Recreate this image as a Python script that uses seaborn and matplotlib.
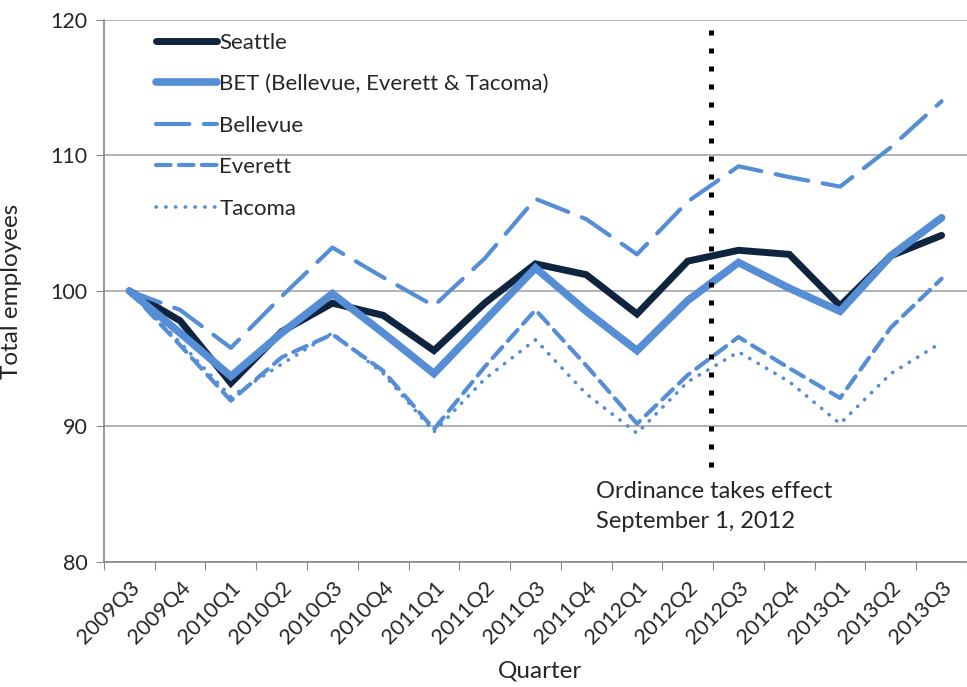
import numpy as np
import pandas as pd
import matplotlib
matplotlib.use("Agg")
import matplotlib.pyplot as plt
import seaborn as sns

# Donnees (indice, base 2009Q3 = 100)
quarters = ["2009Q3", "2009Q4", "2010Q1", "2010Q2", "2010Q3", "2010Q4",
            "2011Q1", "2011Q2", "2011Q3", "2011Q4", "2012Q1", "2012Q2",
            "2012Q3", "2012Q4", "2013Q1", "2013Q2", "2013Q3"]

seattle = [100.0, 97.8, 93.2, 97.0, 99.1, 98.2, 95.6, 99.1, 102.0, 101.2,
           98.3, 102.2, 103.0, 102.7, 98.9, 102.6, 104.1]
bet = [100.0, 96.9, 93.7, 96.9, 99.8, 96.9, 93.9, 97.8, 101.7, 98.5,
       95.6, 99.3, 102.1, 100.2, 98.5, 102.6, 105.4]
bellevue = [100.0, 98.6, 95.8, 99.6, 103.2, 101.0, 98.9, 102.4, 106.8, 105.3,
            102.7, 106.6, 109.2, 108.4, 107.7, 110.6, 114.0]
everett = [100.0, 96.0, 91.9, 95.1, 96.8, 94.1, 89.8, 94.4, 98.6, 94.5,
           90.2, 93.8, 96.6, 94.3, 92.1, 97.3, 100.9]
tacoma = [100.0, 96.2, 92.2, 94.6, 96.9, 93.9, 89.6, 93.5, 96.4, 92.4,
          89.5, 93.3, 95.5, 93.3, 90.2, 93.9, 96.2]

series = ["Seattle", "BET (Bellevue, Everett & Tacoma)", "Bellevue", "Everett", "Tacoma"]
values = [seattle, bet, bellevue, everett, tacoma]

dark = "#0f243e"
blue = "#558ed5"
styles = {
    "Seattle": dict(color=dark, lw=5.0, ls="-"),
    "BET (Bellevue, Everett & Tacoma)": dict(color=blue, lw=5.5, ls="-"),
    "Bellevue": dict(color=blue, lw=3.0, ls=(0, (8, 3.5))),
    "Everett": dict(color=blue, lw=3.0, ls=(0, (3.5, 2))),
    "Tacoma": dict(color=blue, lw=2.6, ls=(0, (0.1, 2.6))),
}

rows = []
for name, vals in zip(series, values):
    for i, v in enumerate(vals):
        rows.append({"serie": name, "idx": i, "quarter": quarters[i], "val": v})
df = pd.DataFrame(rows)

sns.set_style("white")
plt.rcParams["font.family"] = ["Lato", "DejaVu Sans"]

fig = plt.figure(figsize=(9.67, 6.87), dpi=100)
ax = fig.add_axes([0.1075, 0.182, 0.8925, 0.789])

for name in series:
    st = styles[name]
    sub = df[df["serie"] == name]
    sns.lineplot(data=sub, x="idx", y="val", ax=ax, color=st["color"],
                 lw=st["lw"], linestyle=st["ls"], label=name,
                 solid_capstyle="round", dash_capstyle="round",
                 solid_joinstyle="miter")

# Ligne verticale : entree en vigueur de l'ordonnance
ax.plot([11.45, 11.45], [87.0, 119.6], color="black", lw=3.6,
        linestyle=(0, (1, 2.6)), dash_capstyle="butt", zorder=5)
ax.text(9.19, 86.0, "Ordinance takes effect\nSeptember 1, 2012",
        ha="left", va="top", fontsize=17, linespacing=1.55)

ax.set_ylim(80, 120)
ax.set_xlim(-0.5, 16.31)
ax.set_yticks([80, 90, 100, 110, 120])
ax.yaxis.grid(True, color="#a6a6a6", lw=1.2)
ax.xaxis.grid(False)

ax.set_xticks(np.arange(-0.5, 17, 1))
ax.set_xticklabels([])
ax.set_xticks(np.arange(len(quarters)), minor=True)
ax.set_xticklabels(quarters, minor=True, rotation=45, ha="right",
                   rotation_mode="anchor", fontsize=15.5)
ax.tick_params(axis="x", which="major", length=6, color="#888888", direction="out", bottom=True)
ax.tick_params(axis="x", which="minor", length=0, pad=11)
ax.tick_params(axis="y", length=6, color="#888888", direction="out", left=True,
               labelsize=15.5, pad=6)

for s in ["top", "right"]:
    ax.spines[s].set_visible(False)
for s in ["left", "bottom"]:
    ax.spines[s].set_color("#888888")
    ax.spines[s].set_linewidth(1.2)

ax.set_xlabel("Quarter", fontsize=17.5)
ax.set_ylabel("Total employees", fontsize=17.5)
ax.xaxis.set_label_coords(0.505, -0.182)
ax.yaxis.set_label_coords(-0.095, 0.5)

ax.legend(loc="upper left", bbox_to_anchor=(0.05, 0.993), frameon=False,
          fontsize=16, handlelength=2.75, handletextpad=0.1,
          labelspacing=0.97, borderaxespad=0)

fig.savefig("out.png", dpi=100)
